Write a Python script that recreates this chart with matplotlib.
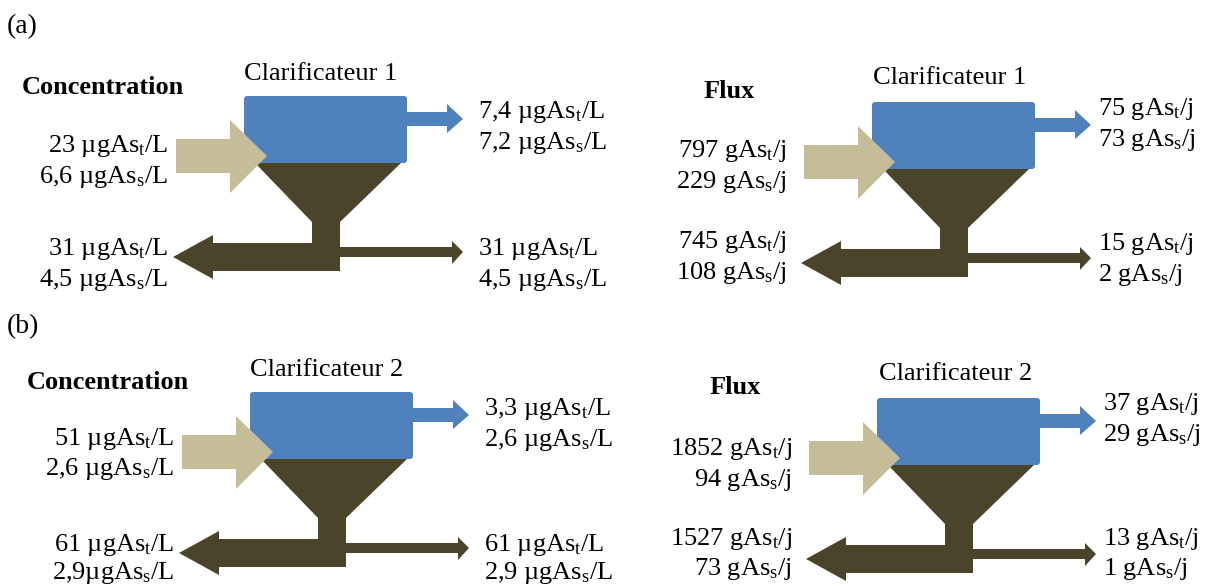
import matplotlib
matplotlib.use("Agg")
import matplotlib.pyplot as plt
from matplotlib.patches import Polygon, FancyBboxPatch

plt.rcParams['font.family'] = ['Liberation Serif', 'DejaVu Serif']
plt.rcParams['mathtext.fontset'] = 'custom'
plt.rcParams['mathtext.rm'] = 'Liberation Serif'
plt.rcParams['mathtext.it'] = 'Liberation Serif:italic'

# values (total / soluble arsenic)
clarifiers = ['Clarificateur 1', 'Clarificateur 2']
conc_in = [['23 ', '6,6 '], ['51 ', '2,6 ']]
conc_overflow = [['7,4 ', '7,2 '], ['3,3 ', '2,6 ']]
conc_sludge_left = [['31 ', '4,5 '], ['61 ', '2,9']]
conc_sludge_right = [['31 ', '4,5 '], ['61 ', '2,9 ']]
flux_in = [['797 ', '229 '], ['1852 ', '94 ']]
flux_overflow = [['75 ', '73 '], ['37 ', '29 ']]
flux_sludge_left = [['745 ', '108 '], ['1527 ', '73 ']]
flux_sludge_right = [['15 ', '2 '], ['13 ', '1 ']]

conc_units = ['\u00b5gAs$_\\mathrm{t}$/L', '\u00b5gAs$_\\mathrm{s}$/L']
flux_units = ['gAs$_\\mathrm{t}$/j', 'gAs$_\\mathrm{s}$/j']

BLUE = '#4F81BD'
TAN = '#C4BD97'
MUD = '#4A442A'
FS = 19


def draw_clarifier(ax, ox, oy):
    # water part
    ax.add_patch(FancyBboxPatch((ox, oy), 163, 67, boxstyle='round,pad=0,rounding_size=3',
                                fc=BLUE, ec='none'))
    # overflow arrow
    pts = [(163, 16), (203, 16), (203, 8), (219, 23), (203, 37), (203, 30), (163, 30)]
    ax.add_patch(Polygon([(ox + x, oy + y) for x, y in pts], fc=BLUE, ec='none'))
    # funnel + sludge outlets
    pts = [(11, 67), (157, 67), (96, 126), (96, 151), (208, 151), (208, 145), (219, 156),
           (208, 168), (208, 161), (96, 161), (96, 175), (-31, 175), (-31, 183), (-71, 161),
           (-31, 139), (-31, 147), (68, 147), (68, 126)]
    ax.add_patch(Polygon([(ox + x, oy + y) for x, y in pts], fc=MUD, ec='none'))
    # inlet arrow
    pts = [(-68, 43), (-14, 43), (-14, 24), (23, 60), (-14, 97), (-14, 77), (-68, 77)]
    ax.add_patch(Polygon([(ox + x, oy + y) for x, y in pts], fc=TAN, ec='none'))


def two_lines(ax, x, ys, vals, units, ha):
    for y, v, u in zip(ys, vals, units):
        ax.text(x, y + 8, v + u, ha=ha, va='baseline', fontsize=FS)


fig = plt.figure(figsize=(12.07, 5.86), dpi=100)
ax = fig.add_axes([0, 0, 1, 1])
ax.set_xlim(0, 1207)
ax.set_ylim(586, 0)
ax.axis('off')

ax.text(7, 33, '(a)', fontsize=20, va='baseline')
ax.text(7, 333, '(b)', fontsize=20, va='baseline')

# layout: origin of tank, title, header, label anchors
layout = [
    # row, kind, origin, title centre, header, in, top, left, right
    (0, 'c', (244, 96), (321, 72), (22, 86), (168, [144, 175]), (478, [110, 141]), (168, [247, 278]), (478, [247, 278])),
    (0, 'f', (872, 102), (950, 76), (729, 90), (787, [149, 180]), (1098, [107, 138]), (787, [240, 271]), (1098, [242, 273])),
    (1, 'c', (250, 392), (327, 368), (27, 381), (174, [437, 467]), (484, [407, 438]), (174, [543, 571]), (484, [543, 571])),
    (1, 'f', (877, 398), (956, 372), (735, 386), (792, [447, 478]), (1103, [402, 433]), (792, [537, 567]), (1103, [537, 567])),
]

for row, kind, org, tpos, hpos, pin, ptop, pleft, pright in layout:
    draw_clarifier(ax, *org)
    ax.text(tpos[0], tpos[1] + 8, clarifiers[row], ha='center', va='baseline', fontsize=FS)
    if kind == 'c':
        ax.text(hpos[0], hpos[1] + 8, 'Concentration', ha='left', va='baseline',
                fontsize=FS, fontweight='bold')
        data = [conc_in, conc_overflow, conc_sludge_left, conc_sludge_right]
        units = conc_units
    else:
        ax.text(hpos[0], hpos[1] + 8, 'Flux', ha='center', va='baseline',
                fontsize=FS, fontweight='bold')
        data = [flux_in, flux_overflow, flux_sludge_left, flux_sludge_right]
        units = flux_units
    two_lines(ax, pin[0], pin[1], data[0][row], units, 'right')
    two_lines(ax, ptop[0], ptop[1], data[1][row], units, 'left')
    two_lines(ax, pleft[0], pleft[1], data[2][row], units, 'right')
    two_lines(ax, pright[0], pright[1], data[3][row], units, 'left')

fig.savefig('out.png', dpi=100)
